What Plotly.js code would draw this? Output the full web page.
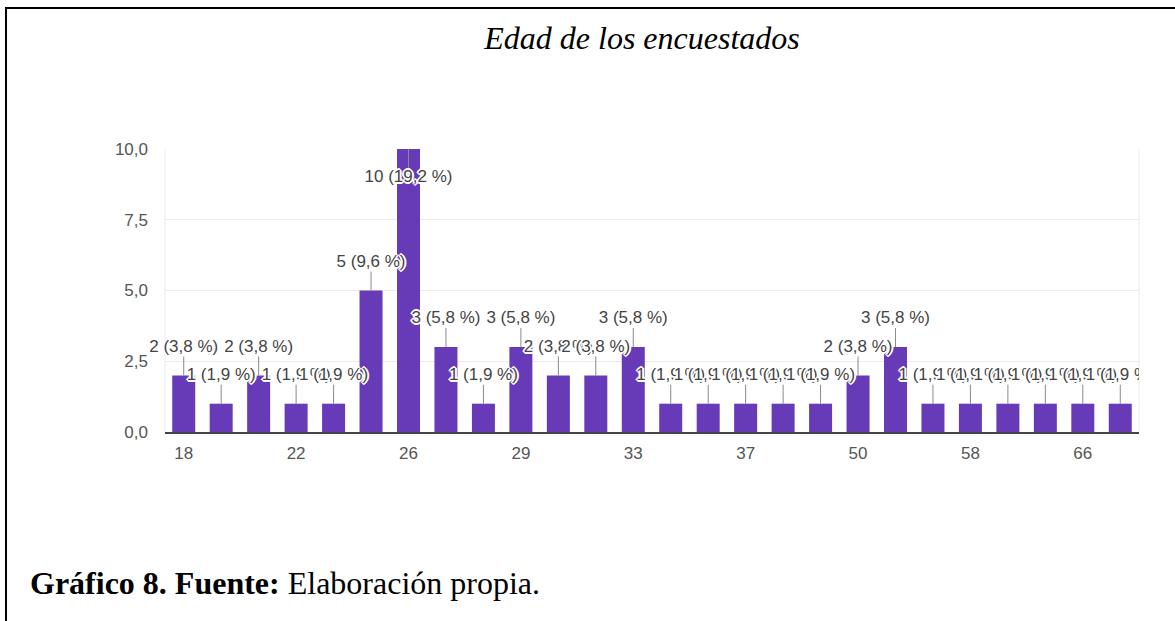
<!DOCTYPE html>
<html>
<head>
<meta charset="utf-8">
<script src="https://cdn.plot.ly/plotly-3.0.1.min.js"></script>
<style>
  html, body { margin: 0; padding: 0; background: #fff; }
  #wrap { position: relative; width: 1175px; height: 621px; overflow: hidden; }
  #chart { width: 1175px; height: 621px; }
  #frame { position: absolute; left: 5px; top: 7px; right: -10px; bottom: -10px;
           border-left: 2px solid #000; border-top: 2px solid #000; pointer-events: none; }
</style>
</head>
<body>
<div id="wrap">
  <div id="chart"></div>
  <div id="frame"></div>
</div>
<script>
// ---- data ----
const ages = ['18','19','20','22','23','25','26','27','28','29','30','31','33','34','35','37','40','45','50','52','55','58','60','63','66','70'];
const counts = [2,1,2,1,1,5,10,3,1,3,2,2,3,1,1,1,1,1,2,3,1,1,1,1,1,1];
const shownTicks = ['18','22','26','29','33','37','50','58','66'];
const yTickVals = [0, 2.5, 5, 7.5, 10];
const chartTitle = 'Edad de los encuestados';
const captionBold = 'Gráfico 8. Fuente:';
const captionRest = ' Elaboración propia.';

// ---- layout geometry ----
const W = 1175, H = 621;
const M = {l: 165, r: 36, t: 149, b: 189};
const yMax = 10;
const pxPerUnit = (H - M.t - M.b) / yMax;

const total = counts.reduce((a, b) => a + b, 0);
const labels = counts.map(v => v + ' (' + (v / total * 100).toFixed(1).replace('.', ',') + ' %)');

// label / leader line positions (pixel offsets converted to data units)
const labelOff = 28 / pxPerUnit, lineOff = 19 / pxPerUnit;
const labelY = counts.map(v => v >= yMax ? v - 29 / pxPerUnit : v + labelOff);
const lineX = [], lineY = [];
counts.forEach((v, i) => {
  lineX.push(ages[i], ages[i], null);
  if (v >= yMax) lineY.push(v, v - 21 / pxPerUnit, null);
  else lineY.push(v, v + lineOff, null);
});

const halo = '1px 1px 0 #fff, -1px -1px 0 #fff, 1px -1px 0 #fff, -1px 1px 0 #fff, 2px 0 0 #fff, -2px 0 0 #fff, 0 2px 0 #fff, 0 -2px 0 #fff';
const labFont = {family: 'Liberation Sans, Arial, sans-serif', size: 17, color: '#444', shadow: halo};

const n = ages.length;
const traces = [
  {type: 'bar', x: ages, y: counts, marker: {color: '#673ab7'}, hoverinfo: 'x+y'},
  {type: 'scatter', mode: 'lines', x: lineX, y: lineY, line: {color: '#8a8a8a', width: 1},
   hoverinfo: 'skip', cliponaxis: false},
  {type: 'scatter', mode: 'text', x: ages.slice(0, n - 1), y: labelY.slice(0, n - 1),
   text: labels.slice(0, n - 1), textposition: 'middle center', textfont: labFont,
   cliponaxis: false, hoverinfo: 'skip'},
  {type: 'scatter', mode: 'text', x: ages.slice(n - 1), y: labelY.slice(n - 1),
   text: labels.slice(n - 1), textposition: 'middle center', textfont: labFont,
   cliponaxis: true, hoverinfo: 'skip'}
];

const layout = {
  width: W, height: H,
  margin: M,
  paper_bgcolor: '#fff', plot_bgcolor: '#fff',
  showlegend: false,
  separators: ',.',
  bargap: 0.386,
  title: {
    text: '<i>' + chartTitle + '</i>',
    font: {family: 'Liberation Serif, Times New Roman, serif', size: 32, color: '#000'},
    x: 642 / W, xanchor: 'center', xref: 'container',
    y: 1 - 38 / H, yanchor: 'middle', yref: 'container'
  },
  xaxis: {
    type: 'category', range: [-0.5, n - 0.5],
    tickmode: 'array', tickvals: shownTicks, ticktext: shownTicks,
    showgrid: false, zeroline: false,
    showline: true, linecolor: '#444', linewidth: 1.5,
    ticks: '', ticklabelstandoff: 5,
    tickfont: {family: 'Liberation Sans, Arial, sans-serif', size: 17, color: '#555'},
    fixedrange: true
  },
  yaxis: {
    range: [0, yMax], tickmode: 'array', tickvals: yTickVals, tickformat: '.1f',
    showgrid: true, gridcolor: '#ebebeb', gridwidth: 1,
    zeroline: false, showline: false, ticks: '', ticklabelstandoff: 16,
    tickfont: {family: 'Liberation Sans, Arial, sans-serif', size: 17, color: '#555'},
    fixedrange: true
  },
  shapes: [
    {type: 'line', xref: 'paper', yref: 'paper', x0: 0, x1: 0, y0: 0, y1: 1,
     line: {color: '#ebebeb', width: 1}, layer: 'below'},
    {type: 'line', xref: 'paper', yref: 'paper', x0: 1, x1: 1, y0: 0, y1: 1,
     line: {color: '#ebebeb', width: 1}, layer: 'below'}
  ],
  annotations: [
    {xref: 'paper', yref: 'paper',
     x: (28 - M.l) / (W - M.l - M.r), xanchor: 'left',
     y: (H - M.b - 583) / (H - M.t - M.b), yanchor: 'middle',
     showarrow: false,
     text: '<b>' + captionBold + '</b>' + captionRest,
     font: {family: 'Liberation Serif, Times New Roman, serif', size: 32, color: '#000'}}
  ]
};

Plotly.newPlot('chart', traces, layout, {displayModeBar: false, staticPlot: true});
</script>
</body>
</html>
